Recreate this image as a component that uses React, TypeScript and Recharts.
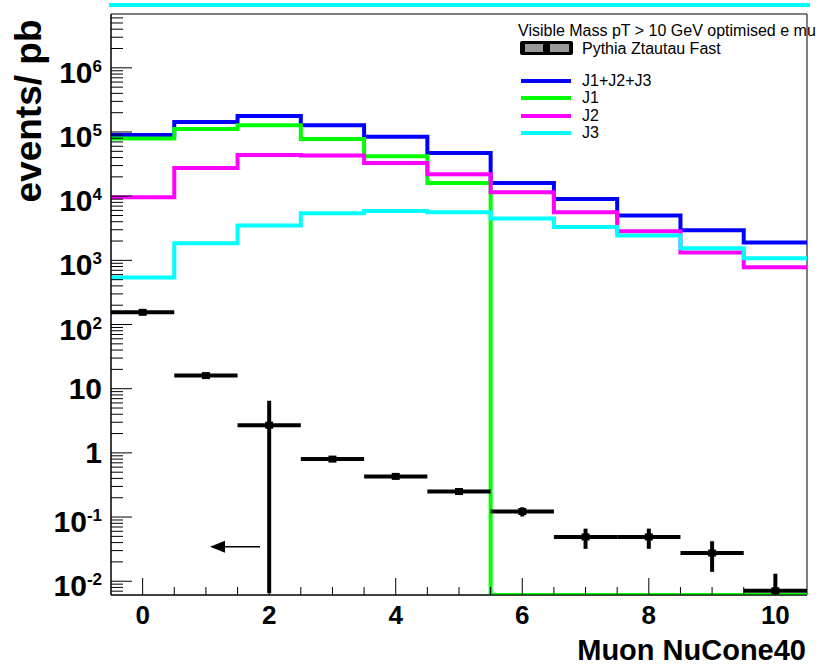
import {
  ComposedChart,
  Line,
  Scatter,
  ErrorBar,
  XAxis,
  YAxis,
  Legend,
  ReferenceArea,
  ReferenceLine,
} from 'recharts'

// bins of Muon NuCone40, width 1, centred on integers
const BINS = [0, 1, 2, 3, 4, 5, 6, 7, 8, 9, 10]
const BIN_EDGES = [-0.5, 0.5, 1.5, 2.5, 3.5, 4.5, 5.5, 6.5, 7.5, 8.5, 9.5, 10.5]

// events / pb per bin
const TOTAL = [9.0e4, 1.43e5, 1.78e5, 1.28e5, 8.4e4, 4.7e4, 1.6e4, 9.0e3, 5.0e3, 2.95e3, 1.9e3]
const J1 = [7.9e4, 1.11e5, 1.28e5, 7.8e4, 4.2e4, 1.6e4, 0, 0, 0, 0, 0]
const J2 = [9.6e3, 2.75e4, 4.4e4, 4.3e4, 3.3e4, 2.2e4, 1.15e4, 5.6e3, 2.85e3, 1.33e3, 780]
const J3 = [540, 1850, 3500, 5400, 5900, 5600, 4500, 3300, 2450, 1550, 1080]

const PYTHIA = [155, 16, 2.7, 0.8, 0.43, 0.25, 0.122, 0.049, 0.049, 0.0275, 0.0071]
const PYTHIA_ERR_LO = [6, 0.6, 2.6935, 0.03, 0.02, 0.012, 0.02, 0.017, 0.017, 0.0135, 0.0009]
const PYTHIA_ERR_HI = [6, 0.6, 3.8, 0.03, 0.02, 0.012, 0.02, 0.017, 0.017, 0.0145, 0.006]
const BIN_HALF_WIDTH = 0.5

const SERIES_NAMES = ['J1+J2+J3', 'J1', 'J2', 'J3']
const SERIES_COLORS = ['#0000ff', '#00ff00', '#ff00ff', '#00ffff']
const DATA_NAME = 'Pythia Ztautau Fast'
const LEGEND_HEADER = 'Visible Mass pT > 10 GeV optimised e mu'
const X_TITLE = 'Muon NuCone40'
const Y_TITLE = 'events/ pb'

const Y_MIN = 0.0061
const Y_MAX = 6.9e6
const Y_MAJOR = [0.01, 0.1, 1, 10, 100, 1e3, 1e4, 1e5, 1e6]
const Y_LABEL_BASE = ['10', '10', '1', '10', '10', '10', '10', '10', '10']
const Y_LABEL_EXP = ['-2', '-1', '', '', '2', '3', '4', '5', '6']
const Y_DECADES = [0.001, 0.01, 0.1, 1, 10, 100, 1e3, 1e4, 1e5, 1e6]
const Y_MINOR_STEPS = [2, 3, 4, 5, 6, 7, 8, 9]

const X_MIN = -0.5
const X_MAX = 10.5
const X_TICKS = [0, 0.5, 1, 1.5, 2, 2.5, 3, 3.5, 4, 4.5, 5, 5.5, 6, 6.5, 7, 7.5, 8, 8.5, 9, 9.5, 10]
const X_MAJOR = [0, 2, 4, 6, 8, 10]

const ARROW_FROM = { x: 1.855, y: 0.0345 }
const ARROW_TO = { x: 1.065, y: 0.0345 }

// layout
const W = 831
const H = 667
const PLOT_LEFT = 111
const PLOT_TOP = 14
const PLOT_BOTTOM = 595
const PLOT_RIGHT = 807
const FONT = '"Liberation Sans", Arial, Helvetica, sans-serif'

const yMinor = Y_DECADES.flatMap((d) => Y_MINOR_STEPS.map((m) => m * d))
const Y_TICKS = [...Y_MAJOR, ...yMinor]
  .filter((v) => v >= Y_MIN && v <= Y_MAX)
  .sort((a, b) => a - b)

// histogram as step table: one row per bin edge, last edge repeats last bin
const floor = (v: number) => (v > 0 ? v : Y_MIN)
const stepRows = BIN_EDGES.map((x, i) => {
  const b = Math.min(i, BINS.length - 1)
  return { x, total: TOTAL[b], j1: floor(J1[b]), j2: J2[b], j3: J3[b] }
})
const SERIES_KEYS = ['total', 'j1', 'j2', 'j3']

const points = BINS.map((x, i) => ({
  x,
  y: PYTHIA[i],
  ex: BIN_HALF_WIDTH,
  ey: [PYTHIA_ERR_LO[i], PYTHIA_ERR_HI[i]],
}))

function YTick(props: any) {
  const { y, payload } = props
  const idx = Y_MAJOR.indexOf(payload.value)
  const major = idx >= 0
  const exp = major ? Y_LABEL_EXP[idx] : ''
  return (
    <g>
      <line x1={PLOT_LEFT} x2={PLOT_LEFT + (major ? 21 : 12)} y1={y} y2={y} stroke="#000" />
      {major && (
        <text
          x={102}
          y={y + (exp ? 15 : 10.5)}
          textAnchor="end"
          fontFamily={FONT}
          fontWeight="bold"
          fontSize={30}
          fill="#000"
        >
          {Y_LABEL_BASE[idx]}
          {exp && (
            <tspan dy={-11} fontSize={17}>
              {exp}
            </tspan>
          )}
        </text>
      )}
    </g>
  )
}

function XTick(props: any) {
  const { x, payload } = props
  const major = X_MAJOR.includes(payload.value)
  return (
    <g>
      <line x1={x} x2={x} y1={PLOT_BOTTOM} y2={PLOT_BOTTOM - (major ? 17 : 8)} stroke="#000" />
      {major && (
        <text
          x={x}
          y={624}
          textAnchor="middle"
          fontFamily={FONT}
          fontWeight="bold"
          fontSize={26}
          fill="#000"
        >
          {payload.value}
        </text>
      )}
    </g>
  )
}

function Marker(props: any) {
  const { cx, cy } = props
  return <rect x={cx - 4} y={cy - 3.5} width={8} height={7} fill="#000" />
}

function Arrow(props: any) {
  const { x1, y1, x2 } = props
  return (
    <g>
      <line x1={x1} y1={y1} x2={x2 + 14} y2={y1} stroke="#000" strokeWidth={1.5} />
      <polygon points={`${x2},${y1} ${x2 + 15},${y1 - 6} ${x2 + 15},${y1 + 6}`} fill="#000" />
    </g>
  )
}

function LegendBox({ payload }: any) {
  const entries = payload || []
  const lines = entries
    .filter((e: any) => SERIES_NAMES.includes(e.value))
    .sort((a: any, b: any) => SERIES_NAMES.indexOf(a.value) - SERIES_NAMES.indexOf(b.value))
  const rowText = { position: 'absolute', left: 82, lineHeight: '18px', whiteSpace: 'nowrap' } as const
  return (
    <div style={{ position: 'relative', width: 331, height: 130, fontFamily: FONT, fontSize: 16, color: '#000' }}>
      <div style={{ ...rowText, left: 18, top: 8 }}>{LEGEND_HEADER}</div>
      <svg style={{ position: 'absolute', left: 20, top: 27 }} width={53} height={14}>
        <rect x={0} y={0} width={53} height={14} rx={2} fill="#000" />
        <rect x={5} y={3} width={18} height={8} fill="#999" />
        <rect x={30} y={3} width={19} height={8} fill="#999" />
      </svg>
      <div style={{ ...rowText, top: 26 }}>{DATA_NAME}</div>
      {lines.map((e: any, i: number) => (
        <div key={e.value}>
          <div
            style={{
              position: 'absolute',
              left: 21,
              top: 65 + i * 17.4,
              width: 50,
              height: 4,
              background: e.color,
            }}
          />
          <div style={{ ...rowText, top: 58 + i * 17.4 }}>{e.value}</div>
        </div>
      ))}
    </div>
  )
}

export default function App() {
  return (
    <div style={{ position: 'absolute', left: 0, top: 0, width: W, height: H, background: '#fff' }}>
      <div
        style={{ position: 'absolute', left: 109, top: 3, width: 701, height: 4, background: '#00ffff' }}
      />
      <ComposedChart
        width={W}
        height={H}
        data={stepRows}
        margin={{ top: PLOT_TOP, right: W - PLOT_RIGHT, bottom: 0, left: 0 }}
      >
        <XAxis
          dataKey="x"
          type="number"
          domain={[X_MIN, X_MAX]}
          allowDataOverflow
          ticks={X_TICKS}
          interval={0}
          tick={<XTick />}
          tickLine={false}
          axisLine={{ stroke: '#000' }}
          height={H - PLOT_BOTTOM}
          label={{
            content: () => (
              <text
                x={806}
                y={660}
                textAnchor="end"
                fontFamily={FONT}
                fontWeight="bold"
                fontSize={29}
                fill="#000"
              >
                {X_TITLE}
              </text>
            ),
          }}
        />
        <YAxis
          type="number"
          scale="log"
          domain={[Y_MIN, Y_MAX]}
          allowDataOverflow
          ticks={Y_TICKS}
          interval={0}
          tick={<YTick />}
          tickLine={false}
          axisLine={{ stroke: '#000' }}
          width={PLOT_LEFT}
          label={{
            content: () => (
              <text
                x={41}
                y={111}
                transform="rotate(-90 41 111)"
                textAnchor="middle"
                fontFamily={FONT}
                fontWeight="bold"
                fontSize={37}
                fill="#000"
              >
                {Y_TITLE}
              </text>
            ),
          }}
        />
        <ReferenceArea
          x1={X_MIN}
          x2={X_MAX}
          y1={Y_MIN}
          y2={Y_MAX}
          fill="none"
          stroke="#000"
          fillOpacity={0}
        />
        {SERIES_KEYS.map((k, i) => (
          <Line
            key={k}
            dataKey={k}
            name={SERIES_NAMES[i]}
            type="stepAfter"
            stroke={SERIES_COLORS[i]}
            strokeWidth={4}
            dot={false}
            activeDot={false}
            isAnimationActive={false}
          />
        ))}
        <Scatter
          name={DATA_NAME}
          data={points}
          dataKey="y"
          fill="#000"
          shape={<Marker />}
          isAnimationActive={false}
        >
          <ErrorBar dataKey="ex" direction="x" width={0} stroke="#000" strokeWidth={4} isAnimationActive={false} />
          <ErrorBar dataKey="ey" direction="y" width={0} stroke="#000" strokeWidth={4} isAnimationActive={false} />
        </Scatter>
        <ReferenceLine segment={[ARROW_FROM, ARROW_TO]} ifOverflow="visible" shape={<Arrow />} />
        <Legend
          layout="vertical"
          align="center"
          verticalAlign="middle"
          content={<LegendBox />}
          wrapperStyle={{ position: 'absolute', left: 500, top: 14, width: 331, height: 130 }}
        />
      </ComposedChart>
    </div>
  )
}
